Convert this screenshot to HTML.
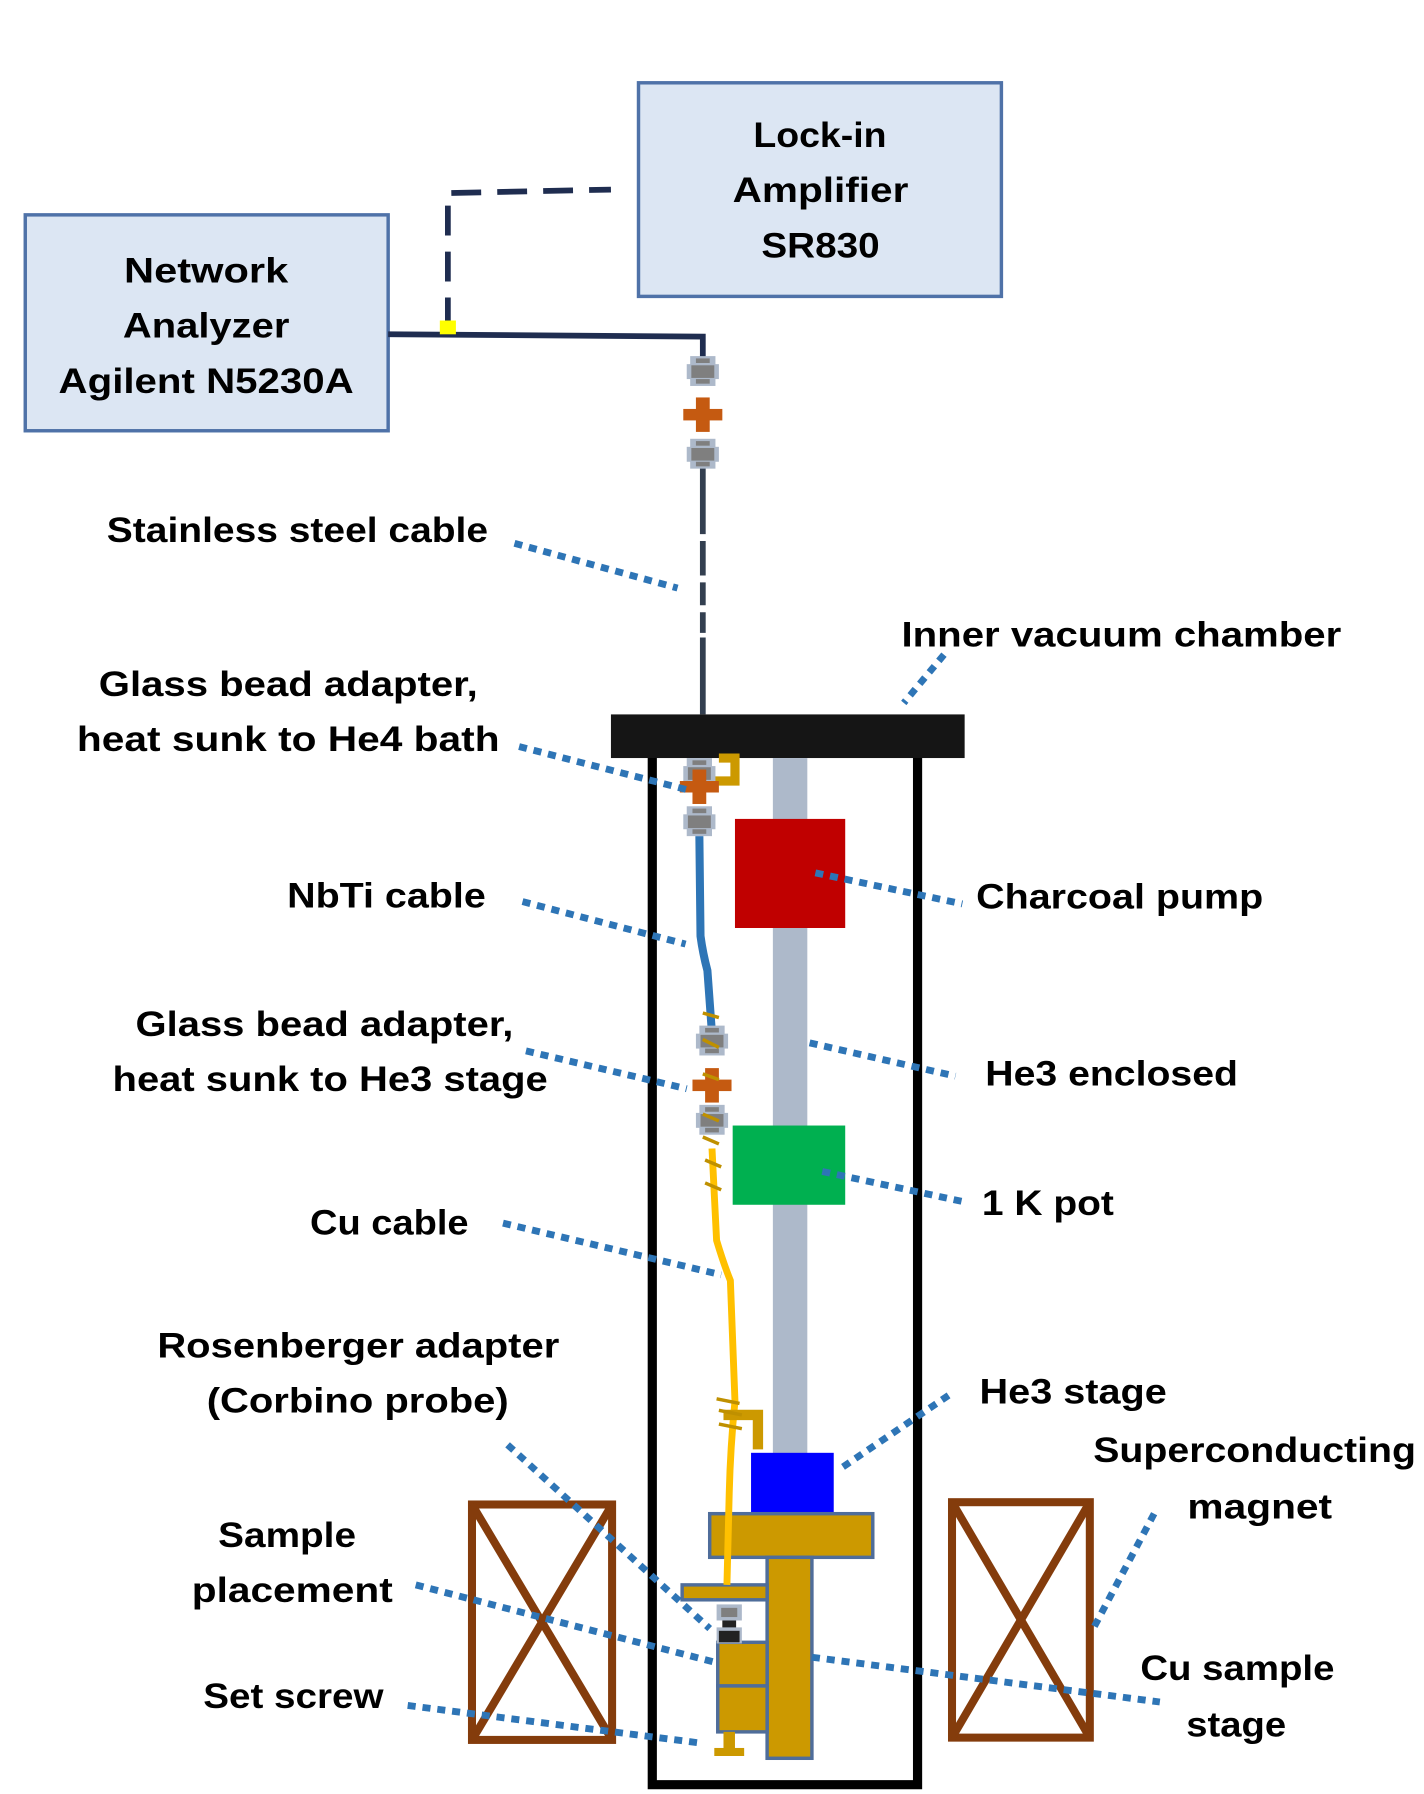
<!DOCTYPE html>
<html><head><meta charset="utf-8"><style>html,body{margin:0;padding:0;background:#fff}svg{display:block}</style></head>
<body>
<svg width="1424" height="1794" viewBox="0 0 1240 1562" xmlns="http://www.w3.org/2000/svg">
<defs>
<g id="conn"><rect x="-11" y="0" width="22" height="26" fill="#adb9ca"/><rect x="-14" y="7" width="28" height="13" fill="#adb9ca"/><rect x="-10" y="8" width="20" height="11" fill="#7f7f7f"/><rect x="-6" y="2" width="12" height="4" fill="#7f7f7f"/><rect x="-6" y="20" width="12" height="4" fill="#7f7f7f"/></g>
<g id="cross"><rect x="-6" y="0" width="12" height="30" fill="#c55a11"/><rect x="-17" y="10" width="34" height="10" fill="#c55a11"/></g>
</defs>
<rect x="556" y="72" width="316" height="186" fill="#dce6f3" stroke="#4f72a8" stroke-width="3"/>
<rect x="22" y="187" width="316" height="188" fill="#dce6f3" stroke="#4f72a8" stroke-width="3"/>
<polyline points="338,291 612,293 612,312" fill="none" stroke="#1f2d50" stroke-width="5"/>
<polyline points="390,285 390,168 532,165" fill="none" stroke="#1f2d50" stroke-width="5" stroke-dasharray="26 14"/>
<rect x="383" y="279" width="14" height="12" fill="#ffff00"/>
<line x1="612" y1="405" x2="612" y2="622" stroke="#333f50" stroke-width="5" stroke-dasharray="60 6 30 6 20 6 18 4 500"/>
<use href="#conn" x="612" y="310"/>
<use href="#cross" x="612" y="346"/>
<use href="#conn" x="612" y="382"/>
<rect x="532" y="622" width="308" height="38" fill="#151515"/>
<polyline points="568,660 568,1554 799,1554 799,660" fill="none" stroke="#000" stroke-width="8"/>
<rect x="673" y="660" width="30" height="608" fill="#adb9ca"/>
<rect x="640" y="713" width="96" height="95" fill="#c00000"/>
<rect x="638" y="980" width="98" height="69" fill="#00b050"/>
<rect x="654" y="1265" width="72" height="53" fill="#0000ff"/>
<rect x="618" y="1318" width="142" height="38" fill="#cc9900" stroke="#4f6d9a" stroke-width="3"/>
<rect x="668" y="1356" width="39" height="175" fill="#cc9900" stroke="#4f6d9a" stroke-width="3"/>
<rect x="594" y="1380" width="74" height="13" fill="#cc9900" stroke="#4f6d9a" stroke-width="3"/>
<rect x="625" y="1430" width="43" height="38" fill="#cc9900" stroke="#4f6d9a" stroke-width="3"/>
<rect x="625" y="1468" width="43" height="40" fill="#cc9900" stroke="#4f6d9a" stroke-width="3"/>
<rect x="630" y="1508" width="10" height="18" fill="#cc9900"/><rect x="622" y="1522" width="26" height="7" fill="#cc9900"/>
<rect x="624" y="1397" width="22" height="14" fill="#adb9ca"/><rect x="628" y="1400" width="14" height="8" fill="#7f7f7f"/>
<rect x="629" y="1411" width="12" height="8" fill="#222"/>
<rect x="624" y="1417" width="22" height="14" fill="#adb9ca"/><rect x="626" y="1420" width="18" height="10" fill="#222"/>
<path d="M609,728 L610,815 Q612,830 616,845 L620,900" fill="none" stroke="#2e75b6" stroke-width="7"/>
<path d="M620,1000 L624,1080 Q630,1100 636,1115 L640,1220 Q636,1260 635,1300 L633,1380" fill="none" stroke="#ffc000" stroke-width="6"/>
<path d="M626,660 L640,660 L640,680 L620,680" fill="none" stroke="#cc9900" stroke-width="8"/>
<path d="M630,1232 L660,1232 L660,1262" fill="none" stroke="#cc9900" stroke-width="9"/>
<use href="#conn" x="609" y="660"/>
<use href="#cross" x="609" y="670"/>
<use href="#conn" x="609" y="702"/>
<use href="#conn" x="620" y="893"/>
<use href="#cross" x="620" y="930"/>
<use href="#conn" x="620" y="962"/>
<g stroke="#bf9000" stroke-width="3">
<line x1="612" y1="882" x2="626" y2="886"/><line x1="612" y1="905" x2="626" y2="912"/><line x1="612" y1="935" x2="626" y2="940"/><line x1="612" y1="970" x2="626" y2="976"/><line x1="612" y1="990" x2="626" y2="996"/>
<line x1="614" y1="1010" x2="628" y2="1016"/><line x1="614" y1="1030" x2="628" y2="1036"/>
<line x1="624" y1="1218" x2="644" y2="1222"/><line x1="626" y1="1228" x2="646" y2="1232"/><line x1="626" y1="1240" x2="646" y2="1244"/>
</g>
<g fill="none" stroke="#843c0c" stroke-width="7">
<rect x="411" y="1310" width="122" height="205"/><line x1="411" y1="1310" x2="533" y2="1515"/><line x1="533" y1="1310" x2="411" y2="1515"/>
<rect x="829" y="1308" width="120" height="205"/><line x1="829" y1="1308" x2="949" y2="1513"/><line x1="949" y1="1308" x2="829" y2="1513"/>
</g>
<g stroke="#2e75b6" stroke-width="6" stroke-dasharray="7 6" fill="none">
<line x1="448" y1="473" x2="590" y2="512"/>
<line x1="822" y1="570" x2="787" y2="612"/>
<line x1="452" y1="650" x2="600" y2="688"/>
<line x1="455" y1="785" x2="597" y2="822"/>
<line x1="710" y1="760" x2="838" y2="787"/>
<line x1="458" y1="915" x2="598" y2="948"/>
<line x1="705" y1="908" x2="832" y2="937"/>
<line x1="716" y1="1020" x2="842" y2="1047"/>
<line x1="438" y1="1065" x2="628" y2="1110"/>
<line x1="826" y1="1215" x2="730" y2="1280"/>
<line x1="1005" y1="1318" x2="952" y2="1418"/>
<line x1="442" y1="1258" x2="618" y2="1418"/>
<line x1="362" y1="1380" x2="625" y2="1448"/>
<line x1="707" y1="1443" x2="1010" y2="1482"/>
<line x1="355" y1="1485" x2="612" y2="1518"/>
</g>
<g font-family="Liberation Sans, sans-serif" font-weight="bold" font-size="31" fill="#000">
<text x="656" y="128" textLength="116" lengthAdjust="spacingAndGlyphs">Lock-in</text>
<text x="638" y="176" textLength="153" lengthAdjust="spacingAndGlyphs">Amplifier</text>
<text x="663" y="224" textLength="103" lengthAdjust="spacingAndGlyphs">SR830</text>
<text x="108" y="246" textLength="143" lengthAdjust="spacingAndGlyphs">Network</text>
<text x="107" y="294" textLength="145" lengthAdjust="spacingAndGlyphs">Analyzer</text>
<text x="51" y="342" textLength="257" lengthAdjust="spacingAndGlyphs">Agilent N5230A</text>
<text x="93" y="472" textLength="332" lengthAdjust="spacingAndGlyphs">Stainless steel cable</text>
<text x="785" y="563" textLength="383" lengthAdjust="spacingAndGlyphs">Inner vacuum chamber</text>
<text x="86" y="606" textLength="330" lengthAdjust="spacingAndGlyphs">Glass bead adapter,</text>
<text x="67" y="654" textLength="368" lengthAdjust="spacingAndGlyphs">heat sunk to He4 bath</text>
<text x="250" y="790" textLength="173" lengthAdjust="spacingAndGlyphs">NbTi cable</text>
<text x="850" y="791" textLength="250" lengthAdjust="spacingAndGlyphs">Charcoal pump</text>
<text x="118" y="902" textLength="329" lengthAdjust="spacingAndGlyphs">Glass bead adapter,</text>
<text x="98" y="950" textLength="379" lengthAdjust="spacingAndGlyphs">heat sunk to He3 stage</text>
<text x="858" y="945" textLength="220" lengthAdjust="spacingAndGlyphs">He3 enclosed</text>
<text x="855" y="1058" textLength="115" lengthAdjust="spacingAndGlyphs">1 K pot</text>
<text x="270" y="1075" textLength="138" lengthAdjust="spacingAndGlyphs">Cu cable</text>
<text x="137" y="1182" textLength="350" lengthAdjust="spacingAndGlyphs">Rosenberger adapter</text>
<text x="180" y="1230" textLength="263" lengthAdjust="spacingAndGlyphs">(Corbino probe)</text>
<text x="853" y="1222" textLength="163" lengthAdjust="spacingAndGlyphs">He3 stage</text>
<text x="952" y="1273" textLength="281" lengthAdjust="spacingAndGlyphs">Superconducting</text>
<text x="1034" y="1322" textLength="126" lengthAdjust="spacingAndGlyphs">magnet</text>
<text x="190" y="1347" textLength="120" lengthAdjust="spacingAndGlyphs">Sample</text>
<text x="167" y="1395" textLength="175" lengthAdjust="spacingAndGlyphs">placement</text>
<text x="177" y="1487" textLength="157" lengthAdjust="spacingAndGlyphs">Set screw</text>
<text x="993" y="1463" textLength="169" lengthAdjust="spacingAndGlyphs">Cu sample</text>
<text x="1033" y="1512" textLength="87" lengthAdjust="spacingAndGlyphs">stage</text>
</g>
</svg>
</body></html>
